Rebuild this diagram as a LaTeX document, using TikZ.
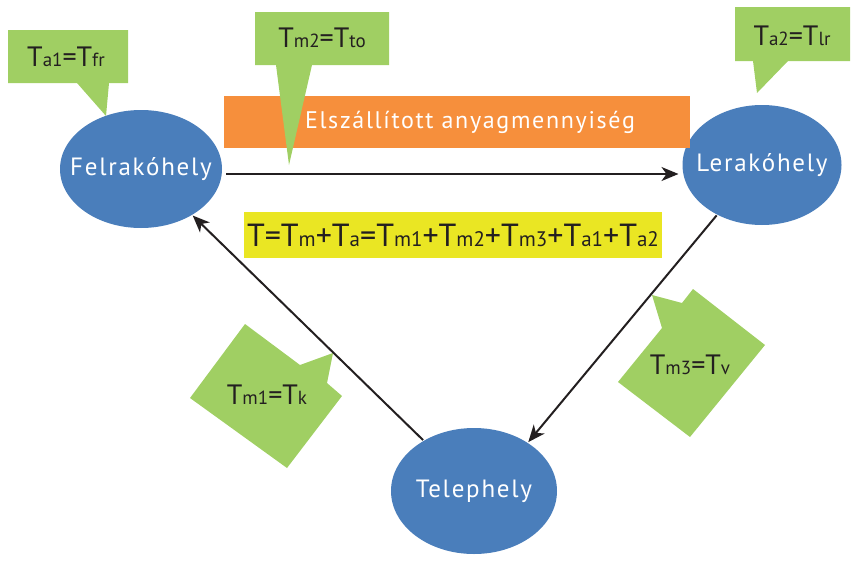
\documentclass[tikz,border=0pt]{standalone}
\usepackage{fontspec}
\setmainfont{PT Sans}
\newfontfamily\spaced[LetterSpace=7]{PT Sans}
\usetikzlibrary{arrows.meta,shapes.geometric}
\newcommand{\subsize}{19}
\newcommand{\tsub}[1]{T{\fontsize{\subsize}{\subsize}\selectfont #1}}

\begin{document}
\begin{tikzpicture}[
    x=1pt, y=-1pt,
    every path/.style={line width=2pt},
    place/.style={ellipse, fill=blu, inner sep=0pt, text=white,
        font=\spaced\fontsize{25}{28}\selectfont},
    bubble/.style={fill=grn},
    tag/.style={text=ink, inner sep=0pt, font=\fontsize{28}{30}\selectfont},
    link/.style={ink, -{Stealth[length=17pt,width=14pt,inset=5pt]}}
]
    \definecolor{blu}{HTML}{4A7EBB}
    \definecolor{grn}{HTML}{A0CF63}
    \definecolor{org}{HTML}{F68F3C}
    \definecolor{ylw}{HTML}{EAE623}
    \definecolor{ink}{HTML}{231F20}

    \useasboundingbox (0,0) rectangle (851,565);

    \node[place, minimum width=162pt, minimum height=118pt] (f) at (141,169)
        {\makebox[0pt]{Felrakóhely}};
    \node[place, minimum width=159pt, minimum height=120pt] (l) at (762,165)
        {\makebox[0pt]{Lerakóhely}};
    \node[place, minimum width=166pt, minimum height=126pt] (t) at (474,491)
        {\makebox[0pt]{Telephely}};

    \node[fill=org, minimum width=466pt, minimum height=52pt, inner sep=0pt] (bar) at (457,122) {};
    \node[text=white, inner sep=0pt, font=\spaced\fontsize{24}{26}\selectfont]
        (barlabel) at (470,122) {Elszállított anyagmennyiség};
    \node[fill=ylw, minimum width=418pt, minimum height=46pt, inner sep=0pt, text=ink,
        font=\fontsize{32}{34}\selectfont\renewcommand{\subsize}{21}] (sum) at (453,235)
        {T=\tsub{m}+\tsub{a}=\tsub{m1}+\tsub{m2}+\tsub{m3}+\tsub{a1}+\tsub{a2}};

    % callouts
    \fill[bubble] (8,30) -- (128,30) -- (128,83) -- (109,83) -- (106,116)
        -- (77,83) -- (8,83) -- cycle;
    \fill[bubble] (255,12) -- (389,12) -- (389,65) -- (312,65) -- (289,165)
        -- (276,65) -- (255,65) -- cycle;
    \fill[bubble] (735,7) -- (850,7) -- (850,61) -- (788,61) -- (757,93)
        -- (753,61) -- (735,61) -- cycle;
    \fill[bubble] (652,295) -- (682,303) -- (693,289) -- (765,345) -- (690,437)
        -- (618,382) -- (662,328) -- cycle;
    \fill[bubble] (245,324) -- (300,365) -- (333,353) -- (327,383) -- (342,396)
        -- (287,468) -- (190,398) -- cycle;

    \node[tag] (a1) at (66,57) {\tsub{a1}=\tsub{fr}};
    \node[tag] (m2) at (322,38) {\tsub{m2}=\tsub{to}};
    \node[tag] (a2) at (792,36) {\tsub{a2}=\tsub{lr}};
    \node[tag] (m3) at (690,365) {\tsub{m3}=\tsub{v}};
    \node[tag] (m1) at (267,395) {\tsub{m1}=\tsub{k}};

    % routes
    \draw[link] ([xshift=3pt,yshift=-5pt]f.east) -- ([xshift=-3pt,yshift=-9pt]l.west);
    \draw[link] (l.228) -- (t.42);
    \draw[link] (t.135) -- (f.-42);
\end{tikzpicture}
\end{document}
